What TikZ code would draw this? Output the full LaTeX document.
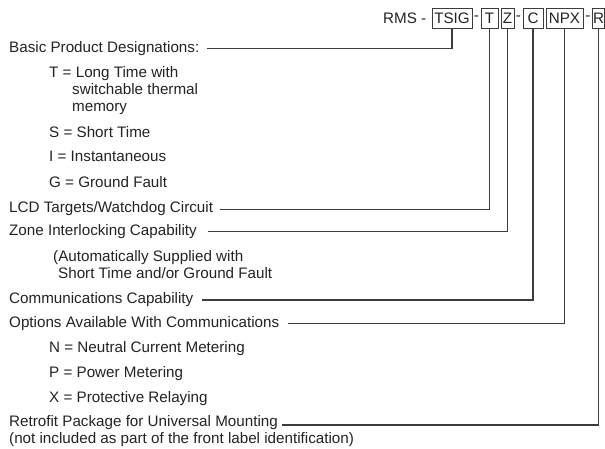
\documentclass[tikz,border=0pt]{standalone}
\usepackage{fontspec}
\setmainfont{Liberation Sans}
\usetikzlibrary{positioning}
\definecolor{inkgray}{RGB}{35, 35, 35}
\definecolor{leadgray}{RGB}{60, 60, 60}

\begin{document}
\begin{tikzpicture}[x=1pt, y=-1pt,
    lbl/.style={anchor=west, inner sep=0pt, align=left, text=inkgray,
                font=\fontsize{15.2}{17}\selectfont},
    code/.style={draw=leadgray, line width=0.9pt, minimum height=20pt,
                 inner sep=0pt, text=inkgray,
                 font=\fontsize{15.2}{17}\selectfont},
    hyph/.style={inner sep=0pt, text=inkgray,
                 font=\fontsize{15.2}{17}\selectfont},
    lead/.style={draw=leadgray, line width=1.1pt},
]
\useasboundingbox (0,0) rectangle (605,448);

% -- Catalogue number --
\node[lbl] (rms) at (383, 18) {RMS -};
\node[code, minimum width=40pt] (tsig) at (452, 18) {TSIG};
\node[hyph] (h1) at (476.5, 18) {-};
\node[code, minimum width=17pt] (t) at (489.5, 18) {T};
\node[code, minimum width=13pt] (z) at (507.5, 18) {Z};
\node[hyph] (h2) at (518.5, 18) {-};
\node[code, minimum width=20pt] (c) at (533, 18) {C};
\node[code, minimum width=37pt] (npx) at (564.5, 18) {NPX};
\node[hyph] (h3) at (588, 18) {-};
\node[code, minimum width=11.5pt] (r) at (598.5, 18) {R};

% -- Descriptions --
\node[lbl] (basic) at (9, 48.3) {Basic Product Designations:};
\node[lbl] (lt) at (49, 90.7)
    {T = Long Time with\\\hspace*{23pt}switchable thermal\\\hspace*{23pt}memory};
\node[lbl] (st) at (49, 131.7) {S = Short Time};
\node[lbl] (inst) at (49, 156.7) {I = Instantaneous};
\node[lbl] (gf) at (49, 181.7) {G = Ground Fault};
\node[lbl] (lcd) at (9, 208.3) {LCD Targets/Watchdog Circuit};
\node[lbl] (zone) at (9, 231.7) {Zone Interlocking Capability};
\node[lbl] (auto) at (53, 265)
    {(Automatically Supplied with\\\hspace*{5pt}Short Time and/or Ground Fault};
\node[lbl] (comm) at (9, 300) {Communications Capability};
\node[lbl] (opt) at (9, 323.3) {Options Available With Communications};
\node[lbl] (nc) at (49, 348.3) {N = Neutral Current Metering};
\node[lbl] (pm) at (49, 373.3) {P = Power Metering};
\node[lbl] (pr) at (49, 398.3) {X = Protective Relaying};
\node[lbl] (retro) at (9, 431.3)
    {Retrofit Package for Universal Mounting\\(not included as part of the front label identification)};

% -- Leader lines --
\coordinate (basic-l) at (207, 48.3);
\coordinate (lcd-l) at (220, 209.3);
\coordinate (zone-l) at (208, 231.3);
\coordinate (comm-l) at (202, 300);
\coordinate (opt-l) at (288, 323.5);
\coordinate (retro-l) at (282, 425);
\draw[lead] (basic-l) -| (tsig.south);
\draw[lead] (lcd-l) -| (t.south);
\draw[lead] (zone-l) -| (z.south);
\draw[lead] (comm-l) -| (c.south);
\draw[lead] (opt-l) -| (npx.south);
\draw[lead] (retro-l) -| (r.south);

\end{tikzpicture}
\end{document}
